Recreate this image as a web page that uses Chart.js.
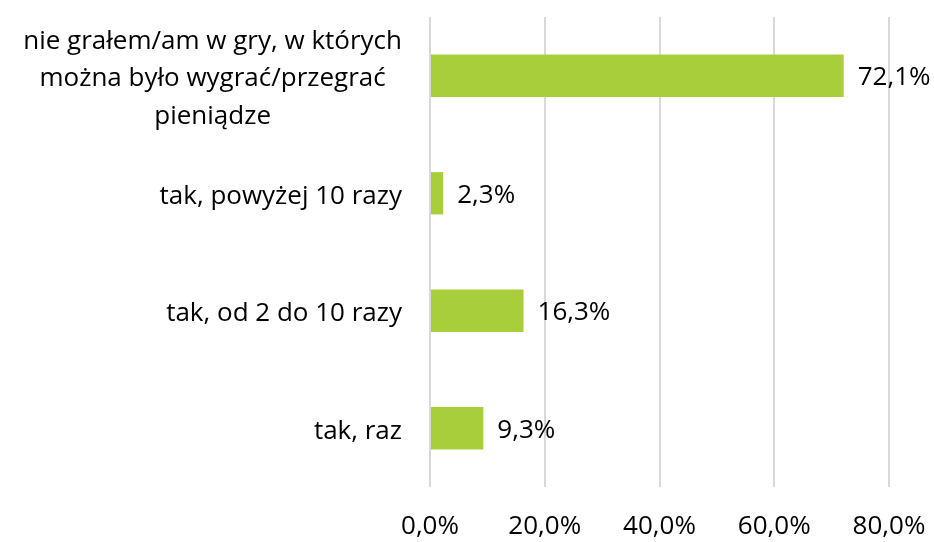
<!DOCTYPE html>
<html>
<head>
<meta charset="utf-8">
<script src="https://cdn.jsdelivr.net/npm/chart.js@4.4.0/dist/chart.umd.min.js"></script>
<style>
  html, body { margin: 0; padding: 0; background: #fff; }
  #wrap { width: 934px; height: 542px; }
</style>
</head>
<body>
<div id="wrap"><canvas id="chart" width="934" height="542"></canvas></div>
<script>
const categories = [
    ['nie grałem/am w gry, w których', 'można było wygrać/przegrać', 'pieniądze'],
    ['tak, powyżej 10 razy'],
    ['tak, od 2 do 10 razy'],
    ['tak, raz']
];
const values = [72.1, 2.3, 16.3, 9.3];
const xTicks = [0, 20, 40, 60, 80];

const fontFamily = '"Open Sans", "Noto Sans", sans-serif';
const fontSize = 26;

const fmt = v => v.toFixed(1).replace('.', ',') + '%';

// value labels after the bars + multi-line category labels
const labelsPlugin = {
    id: 'labels',
    afterDatasetsDraw(chart) {
        const ctx = chart.ctx;
        const meta = chart.getDatasetMeta(0);
        ctx.save();
        ctx.font = fontSize + 'px ' + fontFamily;
        ctx.fillStyle = '#000';
        ctx.textBaseline = 'middle';
        ctx.textAlign = 'left';
        meta.data.forEach((bar, i) => {
            ctx.fillText(fmt(values[i]), bar.x + 14, bar.y + 2);
        });

        const yScale = chart.scales.y;
        const lineH = 37.5;
        const right = yScale.right - 28;
        ctx.textAlign = 'center';
        categories.forEach((lines, i) => {
            const cy = yScale.getPixelForValue(i);
            const maxW = Math.max(...lines.map(l => ctx.measureText(l).width));
            const cx = right - maxW / 2;
            const startY = cy - (lines.length - 1) * lineH / 2;
            lines.forEach((l, j) => ctx.fillText(l, cx, startY + j * lineH + 3));
        });
        ctx.restore();
    }
};

new Chart(document.getElementById('chart'), {
    type: 'bar',
    data: {
        labels: categories.map(c => c.join(' ')),
        datasets: [{
            data: values,
            backgroundColor: '#a8cf3a',
            borderWidth: 0,
            barPercentage: 0.36,
            categoryPercentage: 1
        }]
    },
    options: {
        indexAxis: 'y',
        responsive: false,
        animation: false,
        layout: { padding: { top: 17, right: 45, left: 0, bottom: 0 } },
        plugins: {
            legend: { display: false },
            tooltip: { enabled: false }
        },
        scales: {
            x: {
                min: 0,
                max: 80,
                afterBuildTicks: scale => { scale.ticks = xTicks.map(v => ({ value: v })); },
                afterFit: scale => {
                    scale.height = 55;
                    scale.paddingLeft = 0;
                    scale.paddingRight = 0;
                },
                grid: { color: '#d9d9d9', lineWidth: 2, drawTicks: false },
                border: { display: false },
                ticks: {
                    padding: 24,
                    color: '#000',
                    font: { family: fontFamily, size: fontSize },
                    callback: v => fmt(v)
                }
            },
            y: {
                afterFit: scale => { scale.width = 430; },
                grid: { display: false },
                border: { display: false },
                ticks: { display: false }
            }
        }
    },
    plugins: [labelsPlugin]
});
</script>
</body>
</html>
